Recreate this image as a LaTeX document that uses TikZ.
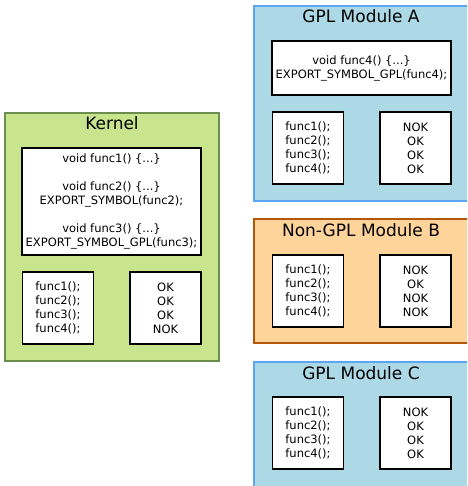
\documentclass[tikz,border=0pt]{standalone}
\usepackage{fontspec}
\setmainfont{DejaVu Sans}
\usepackage{xcolor}
\usepackage{tikz}
\usetikzlibrary{positioning,calc}

\definecolor{kernelfill}{HTML}{C8E48C}
\definecolor{kerneldraw}{HTML}{6B8E4E}
\definecolor{gplfill}{HTML}{ADD8E6}
\definecolor{gpldraw}{HTML}{5AA5F5}
\definecolor{nongplfill}{HTML}{FFD49B}
\definecolor{nongpldraw}{HTML}{B3580A}

\tikzset{
    module/.style={draw, rectangle, line width=1.5pt, inner sep=0pt, minimum width=214pt},
    title/.style={anchor=base, font=\fontsize{17}{20}\selectfont, inner sep=0pt},
    codebox/.style={draw=black, fill=white, line width=1.4pt, inner sep=0pt, align=center,
        minimum width=179pt, font=\fontsize{11.5}{14}\selectfont},
    listbox/.style={draw=black, fill=white, line width=1.4pt, inner sep=0pt, align=center,
        minimum width=71pt, minimum height=72pt, font=\fontsize{11.5}{14}\selectfont}
}

\begin{document}
\begin{tikzpicture}[x=1pt,y=-1pt]
    \useasboundingbox (0,0) rectangle (467,486);
    \clip (0,0) rectangle (467,486);

    % Kernel
    \node[module, fill=kernelfill, draw=kerneldraw, minimum height=248pt] (kernel) at (112,237) {};
    \node[title] (kerneltitle) at ([yshift=-17pt]kernel.north) {Kernel};
    \node[codebox, minimum height=107pt] (kernelcode) at (111.5,201.5)
        {void func1() \{...\}\\ \\void func2() \{...\}\\EXPORT\_SYMBOL(func2);\\ \\void func3() \{...\}\\EXPORT\_SYMBOL\_GPL(func3);};
    \node[listbox] (kernelcalls) at (58,308) {func1();\\func2();\\func3();\\func4();};
    \node[listbox] (kernelresult) at (165.5,308) {OK\\OK\\OK\\NOK};

    % GPL Module A
    \node[module, fill=gplfill, draw=gpldraw, minimum width=218pt, minimum height=195pt] (moda) at (363,103.5) {};
    \node[title] (modatitle) at (361,23) {GPL Module A};
    \node[codebox, minimum height=54pt] (modacode) at (361.5,68)
        {void func4() \{...\}\\EXPORT\_SYMBOL\_GPL(func4);};
    \node[listbox] (modacalls) at (308,148) {func1();\\func2();\\func3();\\func4();};
    \node[listbox] (modaresult) at (415.5,148) {NOK\\OK\\OK\\OK};

    % Non-GPL Module B
    \node[module, fill=nongplfill, draw=nongpldraw, minimum width=218pt, minimum height=124pt] (modb) at (363,281) {};
    \node[title] (modbtitle) at (361,236) {Non-GPL Module B};
    \node[listbox] (modbcalls) at (308,291) {func1();\\func2();\\func3();\\func4();};
    \node[listbox] (modbresult) at (415.5,291) {NOK\\OK\\NOK\\NOK};

    % GPL Module C
    \node[module, fill=gplfill, draw=gpldraw, minimum width=218pt, minimum height=195pt] (modc) at (363,459.5) {};
    \node[title] (modctitle) at (361,379) {GPL Module C};
    \node[listbox] (modccalls) at (308,433) {func1();\\func2();\\func3();\\func4();};
    \node[listbox] (modcresult) at (415.5,433) {NOK\\OK\\OK\\OK};
\end{tikzpicture}
\end{document}
